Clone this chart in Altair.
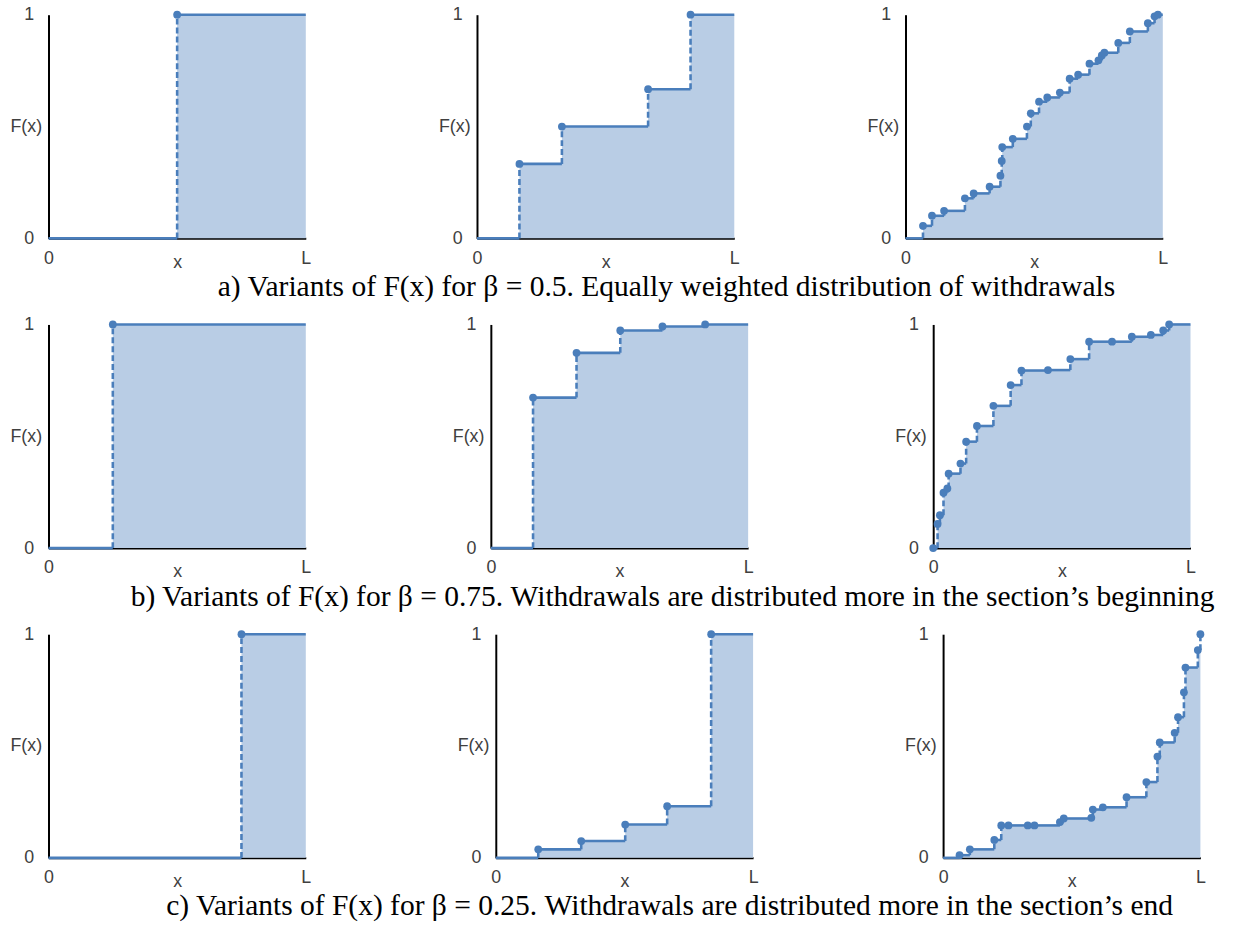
import altair as alt
import pandas as pd

# ---- data: jump positions (fraction of L) and F(x) after each jump ----
a1_x = [0.50]
a1_F = [1.0]
a2_x = [0.165, 0.33, 0.665, 0.83]
a2_F = [0.333, 0.50, 0.667, 1.0]
a3_x = [0.068, 0.103, 0.150, 0.231, 0.265, 0.327, 0.369, 0.374, 0.376, 0.417, 0.472,
        0.487, 0.519, 0.551, 0.600, 0.638, 0.671, 0.715, 0.750, 0.763, 0.773, 0.827,
        0.872, 0.942, 0.968, 0.981]
a3_F = [0.056, 0.101, 0.123, 0.179, 0.201, 0.231, 0.280, 0.346, 0.408, 0.445, 0.500,
        0.559, 0.611, 0.630, 0.652, 0.714, 0.732, 0.781, 0.796, 0.818, 0.830, 0.874,
        0.925, 0.962, 0.993, 1.0]

b1_x = [0.25]
b1_F = [1.0]
b2_x = [0.164, 0.333, 0.503, 0.667, 0.833]
b2_F = [0.673, 0.873, 0.973, 0.991, 1.0]
b3_x = [0.0, 0.017, 0.026, 0.040, 0.055, 0.060, 0.106, 0.128, 0.170, 0.234, 0.301,
        0.343, 0.446, 0.533, 0.606, 0.695, 0.772, 0.846, 0.894, 0.917]
b3_F = [0.0, 0.108, 0.147, 0.248, 0.267, 0.333, 0.378, 0.476, 0.546, 0.636, 0.729,
        0.794, 0.796, 0.845, 0.923, 0.923, 0.945, 0.953, 0.973, 1.0]

c1_x = [0.75]
c1_F = [1.0]
c2_x = [0.165, 0.332, 0.503, 0.666, 0.837]
c2_F = [0.038, 0.075, 0.149, 0.231, 1.0]
c3_x = [0.064, 0.104, 0.199, 0.226, 0.254, 0.329, 0.355, 0.454, 0.469, 0.576, 0.582,
        0.621, 0.713, 0.790, 0.833, 0.842, 0.900, 0.913, 0.936, 0.942, 0.990, 1.0]
c3_F = [0.012, 0.038, 0.080, 0.145, 0.145, 0.145, 0.145, 0.160, 0.176, 0.179, 0.216,
        0.226, 0.271, 0.339, 0.453, 0.516, 0.559, 0.629, 0.740, 0.851, 0.929, 1.0]

captions = [
    "a) Variants of  F(x)  for  β = 0.5. Equally weighted distribution of withdrawals",
    "b) Variants of  F(x)  for  β = 0.75. Withdrawals are distributed more in the section’s beginning",
    "c) Variants of  F(x)  for  β = 0.25. Withdrawals are distributed more in the section’s end",
]
x_tick_labels = ["0", "L"]
y_tick_labels = ["0", "1"]

LINE = "#4a7ebb"
FILL = "#b9cde5"
W, H = 260, 226
LBL = "Liberation Sans"


def panel(xs, fs):
    area = pd.DataFrame({"x": [0.0] + xs + [1.0], "F": [0.0] + fs + [fs[-1]]})
    horiz = pd.DataFrame({"x": [0.0] + xs, "x2": xs + [1.0], "F": [0.0] + fs})
    horiz = horiz[horiz["x2"] > horiz["x"]].reset_index(drop=True)
    vert = pd.DataFrame({"x": xs, "F0": [0.0] + fs[:-1], "F": fs})
    vert = vert[vert["F"] > vert["F0"]].reset_index(drop=True)
    pts = pd.DataFrame({"x": xs, "F": fs})

    xsc = alt.Scale(domain=[0, 1], nice=False, zero=False)
    ysc = alt.Scale(domain=[0, 1], nice=False, zero=False)
    xax = alt.Axis(values=[0, 1], labelExpr="datum.value == 0 ? '%s' : '%s'" % tuple(x_tick_labels),
                   title="x", titleY=29, titleBaseline="alphabetic", labelFlush=False,
                   ticks=False, tickSize=0, labelPadding=11, grid=False)
    yax = alt.Axis(values=[0, 1], labelExpr="datum.value == 0 ? '%s' : '%s'" % tuple(y_tick_labels),
                   title="F(x)", titleAngle=0, titleX=-7, titleY=H / 2, titleAlign="right",
                   titleBaseline="middle", ticks=False, tickSize=0, labelPadding=15, grid=False)

    a = alt.Chart(area).mark_area(interpolate="step-after", color=FILL, opacity=1).encode(
        x=alt.X("x:Q", scale=xsc, axis=xax), y=alt.Y("F:Q", scale=ysc, axis=yax))
    h = alt.Chart(horiz).mark_rule(color=LINE, strokeWidth=2.6).encode(
        x="x:Q", x2="x2", y="F:Q")
    v = alt.Chart(vert).mark_rule(color=LINE, strokeWidth=2.6, strokeDash=[6, 3]).encode(
        x="x:Q", y="F0:Q", y2="F")
    p = alt.Chart(pts).mark_point(filled=True, color=LINE, size=62, opacity=1).encode(
        x="x:Q", y="F:Q")
    return alt.layer(a, h, v, p).properties(width=W, height=H)


def cap(text, dx):
    return alt.Title(text, orient="bottom", anchor="start", font="Liberation Serif",
                     fontSize=29.8, fontWeight="normal", color="#000000", offset=1, dx=dx)


rowA = alt.hconcat(panel(a1_x, a1_F), panel(a2_x, a2_F), panel(a3_x, a3_F),
                   spacing=128, title=cap(captions[0], 210))
rowB = alt.hconcat(panel(b1_x, b1_F), panel(b2_x, b2_F), panel(b3_x, b3_F),
                   spacing=142, title=cap(captions[1], 122))
rowC = alt.hconcat(panel(c1_x, c1_F), panel(c2_x, c2_F), panel(c3_x, c3_F),
                   spacing=147, title=cap(captions[2], 158))

chart = alt.vconcat(rowA, rowB, rowC, spacing=313, bounds="flush").properties(
    padding={"left": 10, "top": 1, "right": 0, "bottom": 0}
).configure_view(stroke=None).configure_axis(
    labelFont=LBL, labelFontSize=18, labelColor="#404040",
    titleFont=LBL, titleFontSize=18, titleColor="#404040", titleFontWeight="normal",
    domainColor="#000000", domainWidth=2
)

chart.save("out.html", embed_options={"renderer": "svg", "actions": False})
